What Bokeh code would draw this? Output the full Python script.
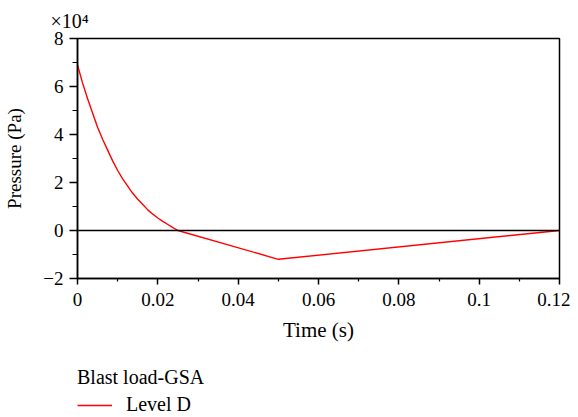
from bokeh.plotting import figure
from bokeh.layouts import column
from bokeh.models import (Range1d, FixedTicker, Span, Title, Legend, LegendItem)
from bokeh.embed import file_html
from bokeh.resources import INLINE

# Data (time in s, pressure in Pa)
time_s = [0.0, 0.00125, 0.0025, 0.00375, 0.005, 0.00625, 0.0075, 0.00875, 0.01,
          0.01125, 0.0125, 0.01375, 0.015, 0.01625, 0.0175, 0.01875, 0.02,
          0.02125, 0.0225, 0.02375, 0.025, 0.05, 0.12]
pressure_pa = [69000, 61500, 55000, 49000, 43000, 38000, 33500, 29000, 25000,
               21500, 18500, 15500, 13000, 10800, 8600, 6800, 5200,
               3800, 2500, 1200, 0, -12000, 0]

x_ticks = [0, 0.02, 0.04, 0.06, 0.08, 0.1, 0.12]
x_tick_labels = ["0", "0.02", "0.04", "0.06", "0.08", "0.1", "0.12"]
x_minor = [0.01, 0.03, 0.05, 0.07, 0.09, 0.11]
y_ticks = [-20000, 0, 20000, 40000, 60000, 80000]
y_tick_labels = ["\u22122", "0", "2", "4", "6", "8"]
y_minor = [-10000, 10000, 30000, 50000, 70000]

legend_title = "Blast load-GSA"
series_name = "Level D"

FONT = "Liberation Serif"
RED = "red"

p = figure(width=570, height=350, output_backend="svg", toolbar_location=None,
           x_range=Range1d(0, 0.12), y_range=Range1d(-20000, 80000),
           min_border_left=77, min_border_right=11, min_border_top=37, min_border_bottom=72)
p.grid.visible = False
p.outline_line_color = "black"
p.outline_line_width = 1.5
p.background_fill_color = "white"
p.border_fill_color = "white"

p.xaxis.ticker = FixedTicker(ticks=x_ticks, minor_ticks=x_minor)
p.xaxis.major_label_overrides = {t: l for t, l in zip(x_ticks, x_tick_labels)}
p.yaxis.ticker = FixedTicker(ticks=y_ticks, minor_ticks=y_minor)
p.yaxis.major_label_overrides = {t: l for t, l in zip(y_ticks, y_tick_labels)}

for ax in (p.xaxis, p.yaxis):
    ax.axis_line_color = "black"
    ax.axis_line_width = 1.5
    ax.major_tick_line_color = "black"
    ax.major_tick_line_width = 1.5
    ax.minor_tick_line_color = "black"
    ax.minor_tick_line_width = 1.2
    ax.major_tick_in = 0
    ax.minor_tick_in = 0
    ax.major_label_text_font = FONT
    ax.major_label_text_font_size = "19px"
    ax.major_label_text_color = "black"
    ax.axis_label_text_font = FONT
    ax.axis_label_text_font_style = "normal"
    ax.axis_label_text_color = "black"

p.xaxis.axis_label_text_font_size = "21px"
p.yaxis.axis_label_text_font_size = "19px"
p.xaxis.major_tick_out = 6
p.xaxis.minor_tick_out = 3
p.yaxis.major_tick_out = 8
p.yaxis.minor_tick_out = 5
p.xaxis.major_label_standoff = 8
p.yaxis.major_label_standoff = 6
p.xaxis.axis_label = "Time (s)"
p.yaxis.axis_label = "Pressure (Pa)"
p.xaxis.axis_label_standoff = 9
p.yaxis.axis_label_standoff = 15

p.add_layout(Span(location=0, dimension="width", line_color="black", line_width=1.5))

p.line(time_s, pressure_pa, line_color=RED, line_width=1.4)

exp_title = Title(text="\u00d710\u2074", align="left", offset=-27, standoff=14,
                  text_font=FONT, text_font_size="20px", text_font_style="normal",
                  text_color="black")
p.add_layout(exp_title, "above")

# Legend panel below the chart (series line kept off-screen, only its legend sample shows)
lg = figure(width=570, height=67, output_backend="svg", toolbar_location=None,
            x_range=Range1d(1, 2), y_range=Range1d(1, 2),
            min_border=0, min_border_left=0, min_border_right=0,
            min_border_top=0, min_border_bottom=0)
lg.axis.visible = False
lg.grid.visible = False
lg.outline_line_color = None
lg.border_fill_color = "white"
lg.background_fill_color = "white"
sample = lg.line(time_s, pressure_pa, line_color=RED, line_width=1.4)

legend = Legend(items=[LegendItem(label=series_name, renderers=[sample])],
                location=(0, 1), title=legend_title,
                title_text_font=FONT, title_text_font_size="20px", title_text_font_style="normal",
                title_text_color="black",
                label_text_font=FONT, label_text_font_size="20px", label_text_color="black",
                glyph_width=35, glyph_height=20, label_height=20, label_standoff=14,
                padding=0, margin=0, spacing=0, title_standoff=4,
                border_line_alpha=0, background_fill_alpha=0)
lg.add_layout(legend, "center")

layout = column(p, lg, spacing=0)
open("out.html", "w").write(file_html(layout, INLINE))
